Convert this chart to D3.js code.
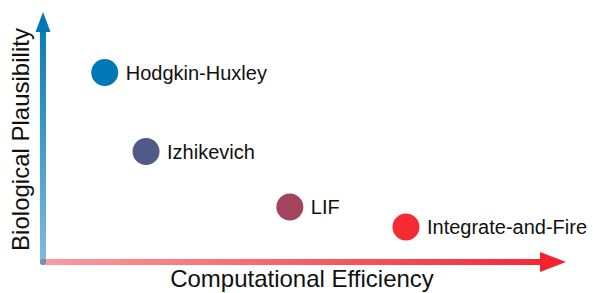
<!DOCTYPE html>
<html>
<head>
<meta charset="utf-8">
<script src="https://cdn.jsdelivr.net/npm/d3@7"></script>
<style>
  body { margin: 0; background: #fff; }
  text { font-family: "Liberation Sans", Arial, sans-serif; fill: #111; }
</style>
</head>
<body>
<div id="chart"></div>
<script>
// neuron models, efficiency vs plausibility (0-10 scale)
const models = ["Hodgkin-Huxley", "Izhikevich", "LIF", "Integrate-and-Fire"];
const efficiency = [1.18, 1.97, 4.72, 6.94];
const plausibility = [7.58, 4.42, 2.2, 1.4];
const colors = ["#0077b6", "#4f5a87", "#a3435e", "#f52a35"];

const width = 593, height = 293;
const origin = { x: 43, y: 262 };

const svg = d3.select("#chart").append("svg")
    .attr("width", width)
    .attr("height", height);

const xScale = d3.scaleLinear().domain([0, 10]).range([origin.x, 566]);
const yScale = d3.scaleLinear().domain([0, 10]).range([origin.y, 12]);

const defs = svg.append("defs");

const gx = defs.append("linearGradient")
    .attr("id", "gradX")
    .attr("gradientUnits", "userSpaceOnUse")
    .attr("x1", xScale(0)).attr("x2", xScale(10))
    .attr("y1", 0).attr("y2", 0);
gx.append("stop").attr("offset", "0%").attr("stop-color", "#f5222d").attr("stop-opacity", 0.45);
gx.append("stop").attr("offset", "100%").attr("stop-color", "#f5222d").attr("stop-opacity", 1);

const gy = defs.append("linearGradient")
    .attr("id", "gradY")
    .attr("gradientUnits", "userSpaceOnUse")
    .attr("x1", 0).attr("x2", 0)
    .attr("y1", yScale(0)).attr("y2", yScale(10));
gy.append("stop").attr("offset", "0%").attr("stop-color", "#0077b6").attr("stop-opacity", 0.5);
gy.append("stop").attr("offset", "100%").attr("stop-color", "#0077b6").attr("stop-opacity", 1);

// x axis arrow
svg.append("line")
    .attr("x1", xScale(0)).attr("y1", yScale(0))
    .attr("x2", xScale(10) - 20).attr("y2", yScale(0))
    .attr("stroke", "url(#gradX)")
    .attr("stroke-width", 6)
    .attr("stroke-linecap", "round");
svg.append("path")
    .attr("d", `M${xScale(10)},${yScale(0)} L${xScale(10) - 26},${yScale(0) - 10} L${xScale(10) - 26},${yScale(0) + 10} Z`)
    .attr("fill", "#f5222d");

// y axis arrow
svg.append("line")
    .attr("x1", xScale(0)).attr("y1", yScale(0))
    .attr("x2", xScale(0)).attr("y2", yScale(10) + 16)
    .attr("stroke", "url(#gradY)")
    .attr("stroke-width", 6)
    .attr("stroke-linecap", "round");
svg.append("path")
    .attr("d", `M${xScale(0)},${yScale(10)} L${xScale(0) - 7.5},${yScale(10) + 20} L${xScale(0) + 7.5},${yScale(10) + 20} Z`)
    .attr("fill", "#0077b6");

// axis titles
svg.append("text")
    .attr("x", 302).attr("y", 287)
    .attr("text-anchor", "middle")
    .style("font-size", "24px")
    .text("Computational Efficiency");

svg.append("text")
    .attr("transform", "translate(29,139.5) rotate(-90)")
    .attr("text-anchor", "middle")
    .style("font-size", "24px")
    .text("Biological Plausibility");

// points
const pts = svg.selectAll(".pt")
    .data(models)
    .enter()
    .append("g")
    .attr("class", "pt");

pts.append("circle")
    .attr("cx", (d, i) => xScale(efficiency[i]))
    .attr("cy", (d, i) => yScale(plausibility[i]))
    .attr("r", 13.5)
    .attr("fill", (d, i) => colors[i]);

pts.append("text")
    .attr("x", (d, i) => xScale(efficiency[i]) + 21)
    .attr("y", (d, i) => yScale(plausibility[i]))
    .attr("dominant-baseline", "central")
    .style("font-size", "20px")
    .text(d => d);
</script>
</body>
</html>
